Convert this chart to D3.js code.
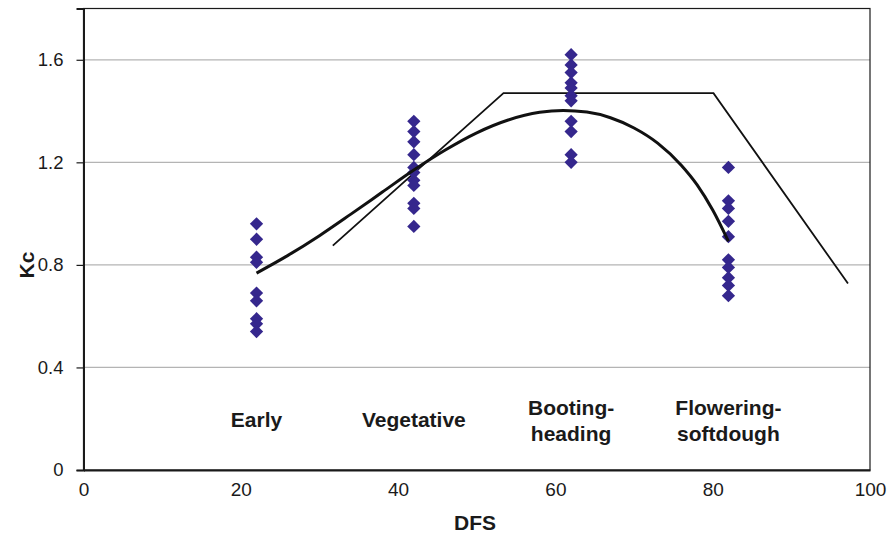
<!DOCTYPE html>
<html>
<head>
<meta charset="utf-8">
<script src="https://cdn.jsdelivr.net/npm/d3@7"></script>
<style>
  html, body { margin: 0; padding: 0; background: #fff; }
  svg { display: block; font-family: "Liberation Sans", Arial, sans-serif; }
</style>
</head>
<body>
<svg id="chart" width="888" height="533"></svg>
<script>
// Crop coefficient (Kc) observations by growth stage, days from sowing (DFS)
const stageDFS = [22, 42, 62, 82];
const stageLabels = [["Early"], ["Vegetative"], ["Booting-", "heading"], ["Flowering-", "softdough"]];
const kcEarly = [0.96, 0.90, 0.83, 0.81, 0.69, 0.66, 0.59, 0.57, 0.54];
const kcVegetative = [1.36, 1.32, 1.28, 1.23, 1.18, 1.16, 1.13, 1.11, 1.04, 1.02, 0.95];
const kcBooting = [1.62, 1.58, 1.55, 1.51, 1.49, 1.46, 1.44, 1.36, 1.32, 1.23, 1.20];
const kcFlowering = [1.18, 1.05, 1.02, 0.97, 0.91, 0.82, 0.79, 0.75, 0.72, 0.68];

// Fitted Kc trend across the season
const fitDFS = [22, 26, 30, 34, 38, 42, 46, 50, 54, 58, 61, 64, 67, 70, 73, 76, 78, 80, 82];
const fitKc  = [0.768, 0.837, 0.914, 0.998, 1.084, 1.170, 1.248, 1.315, 1.365, 1.395, 1.402,
                1.396, 1.374, 1.334, 1.275, 1.189, 1.113, 1.014, 0.892];

// Piecewise stage Kc curve
const stageLineDFS = [31.7, 53.4, 80.1, 97.2];
const stageLineKc  = [0.875, 1.47, 1.47, 0.727];

const xTicks = [0, 20, 40, 60, 80, 100];
const yTicks = [0, 0.4, 0.8, 1.2, 1.6];
const yGrid  = [0.4, 0.8, 1.2, 1.6];

const svg = d3.select("#chart");
const plotLeft = 83.5, plotRight = 870, plotTop = 8.5, plotBottom = 470;

const x = d3.scaleLinear().domain([0, 100]).range([plotLeft, plotRight]);
const y = d3.scaleLinear().domain([0, 1.8]).range([plotBottom, plotTop]);

// Horizontal gridlines
svg.append("g").selectAll("line").data(yGrid).join("line")
  .attr("x1", plotLeft).attr("x2", plotRight)
  .attr("y1", d => y(d)).attr("y2", d => y(d))
  .attr("stroke", "#b4b4b4").attr("stroke-width", 1.2);

// Plot frame
svg.append("rect")
  .attr("x", plotLeft).attr("y", plotTop)
  .attr("width", plotRight - plotLeft).attr("height", plotBottom - plotTop)
  .attr("fill", "none").attr("stroke", "#1a1a1a").attr("stroke-width", 1.2);

// Y axis
const yAxis = d3.axisLeft(y).tickValues(yTicks).tickSize(7).tickPadding(13)
  .tickFormat(d => d === 0 ? "0" : d3.format(".1f")(d));
const gy = svg.append("g").attr("transform", `translate(${plotLeft},0)`).call(yAxis);
gy.select(".domain").attr("stroke", "#1a1a1a").attr("stroke-width", 2);
gy.selectAll(".tick line").attr("stroke", "#1a1a1a").attr("stroke-width", 1.2);
gy.selectAll("text").attr("font-size", 18.5).attr("fill", "#1a1a1a");

// X axis
const xAxis = d3.axisBottom(x).tickValues(xTicks).tickSize(0).tickPadding(13)
  .tickFormat(d3.format("d"));
const gx = svg.append("g").attr("transform", `translate(0,${plotBottom})`).call(xAxis);
gx.select(".domain").attr("stroke", "#1a1a1a").attr("stroke-width", 2);
gx.selectAll("text").attr("font-size", 19).attr("fill", "#1a1a1a");

// Axis titles
svg.append("text").attr("x", 475).attr("y", 530)
  .attr("text-anchor", "middle").attr("font-size", 21).attr("font-weight", "bold")
  .attr("fill", "#1a1a1a").text("DFS");
svg.append("text").attr("transform", `translate(34,265) rotate(-90)`)
  .attr("text-anchor", "middle").attr("font-size", 21).attr("font-weight", "bold")
  .attr("fill", "#1a1a1a").text("Kc");

// Stage Kc piecewise line
const stagePts = stageLineDFS.map((d, i) => [d, stageLineKc[i]]);
svg.append("path")
  .attr("d", d3.line().x(d => x(d[0])).y(d => y(d[1]))(stagePts))
  .attr("fill", "none").attr("stroke", "#111").attr("stroke-width", 1.8);

// Observations (diamond markers)
const kcByStage = [kcEarly, kcVegetative, kcBooting, kcFlowering];
const obs = kcByStage.flatMap((vals, i) => vals.map(v => ({ dfs: stageDFS[i], kc: v })));
const diamond = d3.symbol().type(d3.symbolSquare).size(88);
svg.append("g").selectAll("path").data(obs).join("path")
  .attr("d", diamond)
  .attr("transform", d => `translate(${x(d.dfs)},${y(d.kc)}) rotate(45)`)
  .attr("fill", "#35278d");

// Fitted trend curve
const fitPts = fitDFS.map((d, i) => [d, fitKc[i]]);
svg.append("path")
  .attr("d", d3.line().x(d => x(d[0])).y(d => y(d[1])).curve(d3.curveMonotoneX)(fitPts))
  .attr("fill", "none").attr("stroke", "#111").attr("stroke-width", 3);

// Stage labels
const labelG = svg.append("g");
stageLabels.forEach((lines, i) => {
  const t = labelG.append("text")
    .attr("x", x(stageDFS[i]))
    .attr("y", lines.length === 1 ? 427 : 415)
    .attr("text-anchor", "middle").attr("font-size", 21).attr("font-weight", "bold")
    .attr("fill", "#1a1a1a");
  lines.forEach((ln, j) => {
    t.append("tspan").attr("x", x(stageDFS[i])).attr("dy", j === 0 ? 0 : 26).text(ln);
  });
});
</script>
</body>
</html>
